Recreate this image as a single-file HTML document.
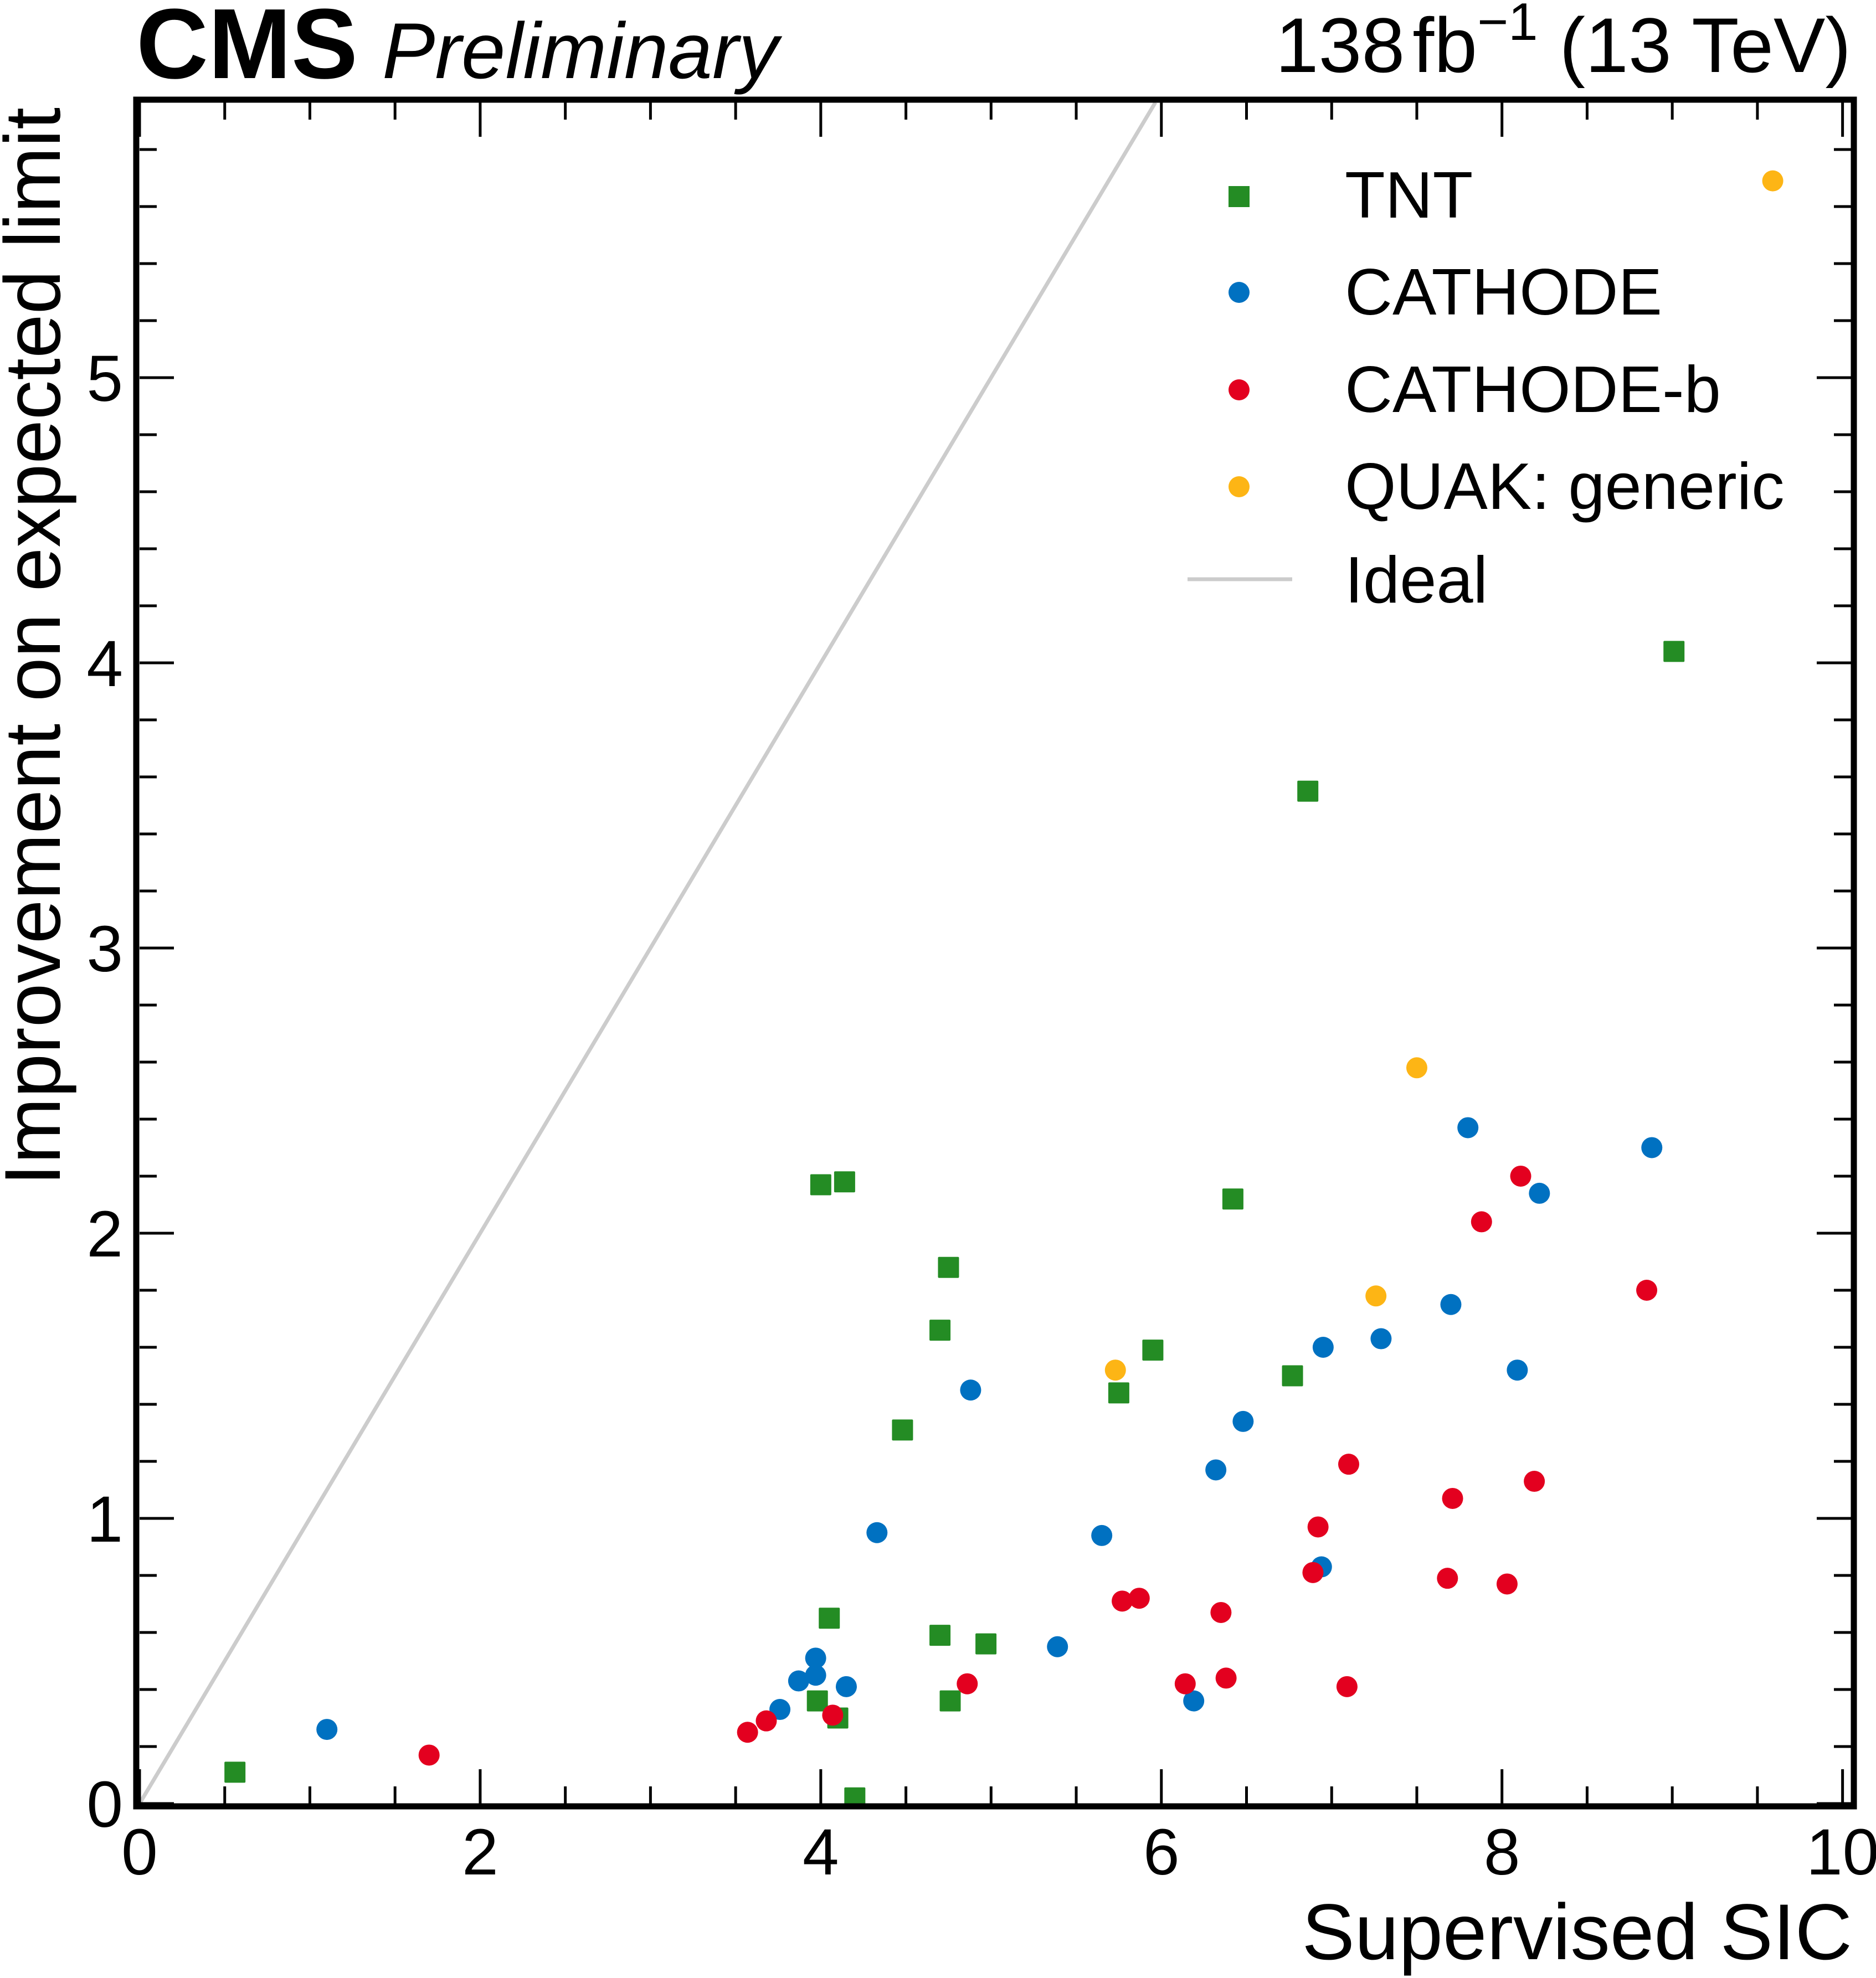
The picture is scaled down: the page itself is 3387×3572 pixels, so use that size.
<!DOCTYPE html>
<html><head><meta charset="utf-8"><style>
html,body{margin:0;padding:0;background:#fff}
svg{display:block;font-family:"Liberation Sans",sans-serif}
</style></head><body>
<svg id="chart" width="3387" height="3572" viewBox="0 0 3387 3572" xmlns="http://www.w3.org/2000/svg">
<g id="marks"></g>
<g id="axes"></g>
<text x="246" y="141" font-size="180" font-weight="bold">CMS</text>
<text x="690" y="141" font-size="143" font-style="italic">Preliminary</text>
<text x="3342" y="130" font-size="140" text-anchor="end">138<tspan dx="14">fb</tspan><tspan font-size="96" dy="-58">−1</tspan><tspan dy="58"> (13 TeV)</tspan></text>
<text x="3344" y="3538" font-size="143" text-anchor="end">Supervised SIC</text>
<text transform="translate(108,194) rotate(-90)" font-size="143" text-anchor="end">Improvement on expected limit</text>
<g>
<rect x="2218" y="336" width="38" height="38" fill="#248c24"/>
<text x="2428" y="393" font-size="119">TNT</text>
<circle cx="2237" cy="528" r="19" fill="#0071c1"/>
<text x="2428" y="568" font-size="119">CATHODE</text>
<circle cx="2237" cy="704" r="19" fill="#e3001f"/>
<text x="2428" y="744" font-size="119">CATHODE-b</text>
<circle cx="2237" cy="879" r="19" fill="#fdb515"/>
<text x="2428" y="919" font-size="119">QUAK: generic</text>
<line x1="2144" y1="1046" x2="2333" y2="1046" stroke="#cccccc" stroke-width="7"/>
<text x="2428" y="1088" font-size="119">Ideal</text>
</g>
</svg>
<script>
const tntX=[0.56,4.00,4.14,4.75,4.70,4.48,4.05,3.98,4.10,4.20,4.70,4.76,4.97,5.75,5.95,6.42,6.77,6.86,9.01];
const tntY=[0.11,2.17,2.18,1.88,1.66,1.31,0.65,0.36,0.30,0.02,0.59,0.36,0.56,1.44,1.59,2.12,1.50,3.55,4.04];
const cathX=[1.10,3.76,3.87,3.97,3.97,4.15,4.33,4.88,5.39,5.65,6.19,6.32,6.48,6.94,6.95,7.29,7.70,7.80,8.09,8.22,8.88];
const cathY=[0.26,0.33,0.43,0.45,0.51,0.41,0.95,1.45,0.55,0.94,0.36,1.17,1.34,0.83,1.60,1.63,1.75,2.37,1.52,2.14,2.30];
const cathbX=[1.70,3.57,3.68,4.07,4.86,5.77,5.87,6.14,6.35,6.38,6.89,6.92,7.09,7.10,7.68,7.71,7.88,8.03,8.11,8.19,8.85];
const cathbY=[0.17,0.25,0.29,0.31,0.42,0.71,0.72,0.42,0.67,0.44,0.81,0.97,0.41,1.19,0.79,1.07,2.04,0.77,2.20,1.13,1.80];
const quakX=[5.73,7.26,7.50,9.59];
const quakY=[1.52,1.78,2.58,5.69];
const xTickLabels=["0","2","4","6","8","10"];
const yTickLabels=["0","1","2","3","4","5"];
const xMax=10.05, yMax=5.965;
const L=252,R=3342,T=185,B=3257;
const sx=v=>L+v*(R-L)/xMax;
const sy=v=>B-v*(B-T)/yMax;
const NS="http://www.w3.org/2000/svg";
const marks=document.getElementById('marks');
const axes=document.getElementById('axes');
function mk(tag,attrs,parent){const e=document.createElementNS(NS,tag);for(const k in attrs)e.setAttribute(k,attrs[k]);parent.appendChild(e);return e;}
const yTop=Math.min(yMax,xMax);
const ideal=mk('line',{x1:sx(0),y1:sy(0),x2:sx(yTop),y2:sy(yTop),stroke:'#cccccc','stroke-width':7},marks);


tntX.forEach((x,i)=>{const r=mk('rect',{x:sx(x)-19,y:sy(tntY[i])-19,width:38,height:38,rx:2,fill:'#248c24'},marks);

});
function circles(xs,ys,col,name){xs.forEach((x,i)=>{const c=mk('circle',{cx:sx(x),cy:sy(ys[i]),r:19,fill:col},marks);

});}
circles(cathX,cathY,'#0071c1','cathode-point');
circles(cathbX,cathbY,'#e3001f','cathode-b-point');
circles(quakX,quakY,'#fdb515','quak-point');
const fr=mk('rect',{x:246,y:180,width:3101,height:3082,fill:'none',stroke:'#000','stroke-width':11},axes);


for(let v=0;v<=10.001;v+=0.5){const major=Math.abs(v/2-Math.round(v/2))<1e-6;const len=major?62:31;const X=sx(v);
const t1=mk('line',{x1:X,y1:B,x2:X,y2:B-len,stroke:'#000','stroke-width':5},axes);


const t2=mk('line',{x1:X,y1:T,x2:X,y2:T+len,stroke:'#000','stroke-width':5},axes);

}
xTickLabels.forEach((s,i)=>{const t=mk('text',{x:sx(i*2),y:3385,'font-size':118,'text-anchor':'middle'},axes);t.textContent=s;

});
for(let k=0;k<=29;k++){const v=k*0.2;if(v>yMax)break;const major=k%5===0;const len=major?62:31;const Y=sy(v);
const t1=mk('line',{x1:L,y1:Y,x2:L+len,y2:Y,stroke:'#000','stroke-width':5},axes);


const t2=mk('line',{x1:R,y1:Y,x2:R-len,y2:Y,stroke:'#000','stroke-width':5},axes);

}
yTickLabels.forEach((s,i)=>{const t=mk('text',{x:222,y:sy(i)+42,'font-size':118,'text-anchor':'end'},axes);t.textContent=s;

});
</script>
</body></html>
